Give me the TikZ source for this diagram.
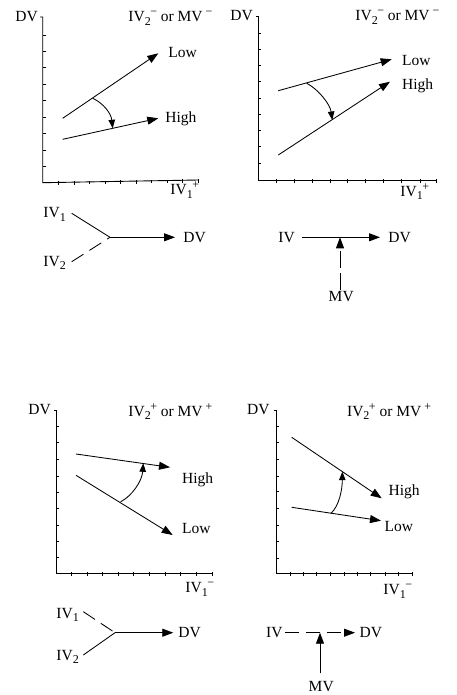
\documentclass[tikz,border=0pt]{standalone}
\usepackage{fontspec}
\setmainfont{Liberation Serif}
\usetikzlibrary{arrows.meta}
\newcommand\smallfnt{\fontsize{12}{13}\selectfont}
\newcommand\ivss[2]{IV\raisebox{-3.5pt}{\smallfnt #1}\kern-0.5pt\raisebox{6pt}{\smallfnt #2}}
\newcommand\mvsup[1]{MV\kern3pt\raisebox{6pt}{\smallfnt #1}}
\newcommand\ivsb[1]{IV\raisebox{-3.5pt}{\smallfnt #1}}
\begin{document}
\begin{tikzpicture}[x=1pt,y=-1pt,
  line width=0.85pt,
  >={Triangle[length=11pt,width=8pt]},
  lbl/.style={font=\fontsize{15.5}{17}\selectfont, anchor=base west, inner sep=0pt},
  axis/.style={line width=0.9pt},
  tickline/.style={line width=0.65pt},
  curvearr/.style={->,>={Triangle[length=8.5pt,width=6.5pt]}},
  dashedline/.style={dash pattern=on 14pt off 7pt}]
\useasboundingbox (0,0) rectangle (456,695);

% ---------------- Panel 1 (top left)
\draw[axis] (40,17) -- (42.7,17) -- (42.7,182.7) -- (198.3,180);
\foreach \y in {35,51.7,67.7,84,100.7,117.3,133.3,150,166}
  \draw[tickline] (42.7,\y) -- (45.7,\y);
\foreach \x in {58.3,74,89.3,105,120.7,136,151.7,167.3,182.7,198.3}{
  \pgfmathsetmacro\yy{182.7-(\x-42.7)*0.01735}
  \draw[tickline] (\x,{\yy-1}) -- (\x,{\yy+2.5});}
\node[lbl] (p1dv) at (15,21.7) {DV};
\node[lbl] (p1top) at (128,21.7) {\ivss{2}{−} or \mvsup{−}};
\node[lbl] (p1low) at (168,57.7) {Low};
\node[lbl] (p1high) at (165,122.7) {High};
\node[lbl] (p1iv) at (170,194.7) {\ivss{1}{+}};
\coordinate (p1a) at (62.7,118.3);
\coordinate (p1b) at (158.3,53.3);
\coordinate (p1c) at (62.7,139.3);
\coordinate (p1d) at (158.3,118.3);
\draw[->] (p1a) -- (p1b);
\draw[->] (p1c) -- (p1d);
\coordinate (p1s) at (92.7,98.3);
\coordinate (p1e) at (112.7,128.3);
\draw[curvearr] (p1s) .. controls (103,103) and (111,113) .. (p1e);

% ---------------- Panel 2 (top right)
\draw[axis] (256,16) -- (258.3,16) -- (258.3,180) -- (436.7,180);
\foreach \y in {33.3,49.3,65.7,81.7,98.3,114,130.7,146.7,163.3}
  \draw[tickline] (258.3,\y) -- (261.3,\y);
\foreach \x in {276.7,294.3,312.3,330,347.7,365.7,383.3,401.7,420,436.7}
  \draw[tickline] (\x,179) -- (\x,182.5);
\node[lbl] (p2dv) at (230,20.7) {DV};
\node[lbl] (p2top) at (355,20.7) {\ivss{2}{−} or \mvsup{−}};
\node[lbl] (p2low) at (401.7,65.7) {Low};
\node[lbl] (p2high) at (401.7,89.7) {High};
\node[lbl] (p2iv) at (400,196.4) {\ivss{1}{+}};
\coordinate (p2a) at (278.3,90.7);
\coordinate (p2b) at (391.7,59.3);
\coordinate (p2c) at (278.3,155);
\coordinate (p2d) at (390,81.7);
\draw[->] (p2a) -- (p2b);
\draw[->] (p2c) -- (p2d);
\coordinate (p2s) at (306.7,83.3);
\coordinate (p2e) at (332.3,120);
\draw[curvearr] (p2s) .. controls (318,89) and (330,104) .. (p2e);

% ---------------- Diagram 1 (top left)
\node[lbl] (d1iv1) at (43,217.7) {\ivsb{1}};
\node[lbl] (d1iv2) at (43,266.4) {\ivsb{2}};
\node[lbl] (d1dv) at (183,242) {DV};
\coordinate (d1a) at (71.7,213.3);
\coordinate (d1b) at (71.7,261.7);
\coordinate (d1j) at (110,237.3);
\coordinate (d1t) at (175,237.3);
\draw (d1a) -- (d1j);
\draw[dashedline] (d1b) -- (d1j);
\draw[->] (d1j) -- (d1t);

% ---------------- Diagram 2 (top right)
\node[lbl] (d2iv) at (278,242) {IV};
\node[lbl] (d2dv) at (388,242) {DV};
\node[lbl] (d2mv) at (328.3,301.4) {MV};
\coordinate (d2a) at (301.7,237.3);
\coordinate (d2t) at (380,237.3);
\coordinate (d2j) at (340,237.3);
\coordinate (d2m) at (340,289.5);
\draw[->] (d2a) -- (d2t);
\draw[->,dash pattern=on 17pt off 5pt] (d2m) -- (d2j);

% ---------------- Panel 3 (bottom left)
\draw[axis] (53.5,410) -- (56,410) -- (56,573.3) -- (212.3,573.3);
\foreach \y in {426,442.7,459.3,476,492.7,508.3,525,541.7,557.3}
  \draw[tickline] (56,\y) -- (59,\y);
\foreach \x in {71.7,87.3,102.7,118.3,133.3,149.3,165,180.7,196.7,212.3}
  \draw[tickline] (\x,572.3) -- (\x,575.8);
\node[lbl] (p3dv) at (28,414.7) {DV};
\node[lbl] (p3top) at (128,416.4) {\ivss{2}{+} or \mvsup{+}};
\node[lbl] (p3high) at (181.7,483) {High};
\node[lbl] (p3low) at (181.7,533.7) {Low};
\node[lbl] (p3iv) at (185,592.7) {\ivss{1}{−}};
\coordinate (p3a) at (76,454);
\coordinate (p3b) at (170,467.3);
\coordinate (p3c) at (76,475.3);
\coordinate (p3d) at (172.7,535);
\draw[->] (p3a) -- (p3b);
\draw[->] (p3c) -- (p3d);
\coordinate (p3s) at (120.7,501.7);
\coordinate (p3e) at (143.3,463.3);
\draw[curvearr] (p3s) .. controls (132,496) and (142,481) .. (p3e);

% ---------------- Panel 4 (bottom right)
\draw[axis] (273.5,410) -- (276,410) -- (276,573.3) -- (412.7,573.3);
\foreach \y in {426.7,442.7,459.3,476,491.7,508.3,525,541.7,558.3}
  \draw[tickline] (276,\y) -- (279,\y);
\foreach \x in {290,303.3,316.7,330,344,357.3,370.7,385,398.3,412.7}
  \draw[tickline] (\x,572.3) -- (\x,575.8);
\node[lbl] (p4dv) at (246.7,414.7) {DV};
\node[lbl] (p4top) at (346.7,416.4) {\ivss{2}{+} or \mvsup{+}};
\node[lbl] (p4high) at (388.3,495.4) {High};
\node[lbl] (p4low) at (384.3,531.4) {Low};
\node[lbl] (p4iv) at (383,594.7) {\ivss{1}{−}};
\coordinate (p4a) at (291.7,437.3);
\coordinate (p4b) at (381.7,498.3);
\coordinate (p4c) at (291.7,507.3);
\coordinate (p4d) at (381,520.7);
\draw[->] (p4a) -- (p4b);
\draw[->] (p4c) -- (p4d);
\coordinate (p4s) at (331,513.3);
\coordinate (p4e) at (342.3,471.7);
\draw[curvearr] (p4s) .. controls (339,506) and (342.3,490) .. (p4e);

% ---------------- Diagram 3 (bottom left)
\node[lbl] (d3iv1) at (56,618) {\ivsb{1}};
\node[lbl] (d3iv2) at (56,660) {\ivsb{2}};
\node[lbl] (d3dv) at (178,637.4) {DV};
\coordinate (d3a) at (83.3,611.7);
\coordinate (d3b) at (83.3,655);
\coordinate (d3j) at (115,632.7);
\coordinate (d3t) at (173.3,632.7);
\draw[dashedline] (d3a) -- (d3j);
\draw (d3b) -- (d3j);
\draw[->] (d3j) -- (d3t);

% ---------------- Diagram 4 (bottom right)
\node[lbl] (d4iv) at (265.7,637.4) {IV};
\node[lbl] (d4dv) at (359.3,637.4) {DV};
\node[lbl] (d4mv) at (308.3,691.4) {MV};
\coordinate (d4a) at (285,632.7);
\coordinate (d4t) at (355,632.7);
\coordinate (d4j) at (320,632.7);
\coordinate (d4m) at (320,673.3);
\draw[->,dashedline] (d4a) -- (d4t);
\draw[->] (d4m) -- (d4j);
\end{tikzpicture}
\end{document}
